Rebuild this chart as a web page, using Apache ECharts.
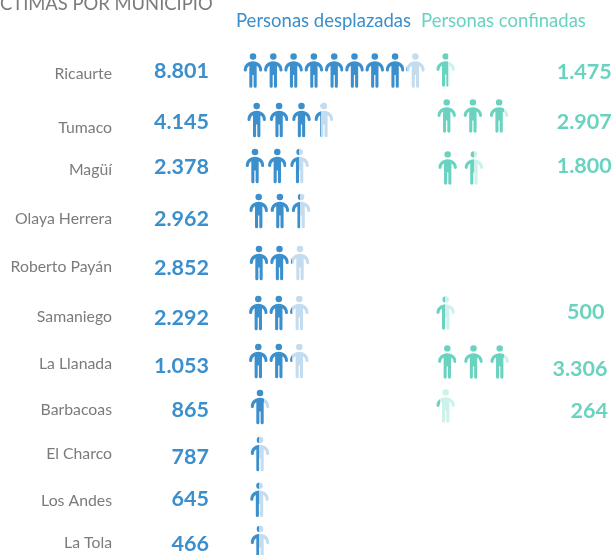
<!DOCTYPE html>
<html><head><meta charset="utf-8">
<style>html,body{margin:0;padding:0;background:#fff}#c{width:614px;height:555px}</style>
<script src="https://cdn.jsdelivr.net/npm/echarts@6/dist/echarts.min.js"></script></head>
<body><div id="c"></div>
<script>
// ---- data ----
const municipios = ['Ricaurte','Tumaco','Magüí','Olaya Herrera','Roberto Payán','Samaniego','La Llanada','Barbacoas','El Charco','Los Andes','La Tola'];
const desplazadas = [8801,4145,2378,2962,2852,2292,1053,865,787,645,466];
const confinadas = [1475,2907,1800,null,null,500,3306,264,null,null,null];
// icons filled in the picture (whole + partial icon), as drawn there
const iconosDesplazadas = [8.05,3.32,2.45,2.45,2.08,2.08,2.08,0.7,0.47,0.47,0.47];
const iconosConfinadas = [0.62,2.75,1.48,null,null,0.45,2.75,0.2,null,null,null];

// ---- layout and style, separate from the data (axis units = px, offsets from the row centre) ----
const blue='#3a8fcc', blueLight='#c3dcef', green='#69d3c0', greenLight='#cdf2eb', grey='#7b7b7b';
const dOffsetY=[0.5,2.6,1.2,-1.2,3.4,6,6.6,5.2,4.8,3.1,-1];
const dStartX=[253,256.7,255,258.7,259,258.3,258.3,260,260,259.5,260];
const dPitch=[20.3,22.4,22.3,21.2,20.5,20.5,20.5,20,20,20,20];
const cOffsetY=[0,-1.4,3.2,0,0,6,7.6,4.2,0,0,0];
const cStartX=[445.7,446.7,447.7,0,0,445.7,447.3,445.7,0,0,0];
const cPitch=26.2;
const nameOffsetY=[4,10.6,5.2,6.8,7.4,10,9.6,8.2,4.8,4.4,-1];
const numOffsetY=[1,4.6,2.2,6.8,8.4,11,11.6,8.2,7.8,2.4,0];
const cValOffsetY=[1.7,4.6,1.2,0,0,4.7,14.6,9.2,0,0,0];
const cValRight=[611.7,611.7,611.7,0,0,604.5,607.5,608,0,0,0];
const ICON='M9 0a3.2 3.2 0 1 0 0 6.4a3.2 3.2 0 1 0 0-6.4zM9 8C3.8 8 0 11.6 0 16.6a1.5 1.5 0 0 0 3 0C3 14.6 4 13.2 5.4 12.4V32.5a1.5 1.5 0 0 0 3 0V21.5H9.6V32.5a1.5 1.5 0 0 0 3 0V12.4C14 13.2 15 14.6 15 16.6a1.5 1.5 0 0 0 3 0C18 11.6 14.2 8 9 8z';

function iconRender(startX,pitch,offY,dark,light,w,h){
  return function(params,api){
    const fill=api.value(0), row=api.value(1), children=[];
    const count=Math.ceil(fill);
    for(let k=0;k<count;k++){
      const pitchRow=Array.isArray(pitch)?pitch[row]:pitch;
      const p=api.coord([startX[row]+k*pitchRow,row]);
      const f=Math.min(1,Math.max(0,fill-k));
      children.push({type:'path',shape:{pathData:ICON,layout:'cover',x:p[0]-w/2,y:p[1]+offY[row]-h/2,width:w,height:h},
        style:{fill:new echarts.graphic.LinearGradient(0,0,1,0,[{offset:0,color:dark},{offset:f,color:dark},{offset:f,color:light},{offset:1,color:light}])}});
    }
    return {type:'group',children};
  };
}
function textRender(getText,getX,offY,color,font){
  return function(params,api){
    const row=api.value(1);
    const p=api.coord([getX(row),row]);
    return {type:'text',x:p[0],y:p[1]+offY[row],style:{text:getText(row),align:'right',verticalAlign:'middle',fill:color,font}};
  };
}
const fmt=v=>String(v).replace(/\B(?=(\d{3})+$)/g,'.');
const rows=municipios.map((m,i)=>[i,i]);
const FF='Lato, sans-serif';
const chart=echarts.init(document.getElementById('c'));
chart.setOption({
  animation:false,backgroundColor:'#fff',
  title:{text:'CTIMAS POR MUNICIPIO',left:0,top:-5,padding:0,textStyle:{color:grey,fontFamily:FF,fontSize:18.4,fontWeight:'normal'}},
  legend:{left:231,top:12,padding:0,itemWidth:0,itemHeight:0,itemGap:5,selectedMode:false,
    data:[{name:'Personas desplazadas',icon:'none',textStyle:{color:blue}},{name:'Personas confinadas',icon:'none',textStyle:{color:green}}],
    textStyle:{fontFamily:FF,fontSize:18.5}},
  grid:{left:0,top:46.3,width:614,height:521.4,containLabel:false,outerBoundsMode:'none'},
  xAxis:{type:'value',min:0,max:614,show:false},
  yAxis:{type:'category',data:municipios,inverse:true,show:false},
  series:[
    {type:'custom',name:'Personas desplazadas',color:blue,clip:false,silent:true,
     data:iconosDesplazadas.map((v,i)=>[v,i]),encode:{x:0,y:1},
     renderItem:iconRender(dStartX,dPitch,dOffsetY,blue,blueLight,18.4,34.5)},
    {type:'custom',name:'Personas confinadas',color:green,clip:false,silent:true,
     data:iconosConfinadas.map((v,i)=>[v,i]).filter(d=>d[0]!=null),encode:{x:0,y:1},
     renderItem:iconRender(cStartX,cPitch,cOffsetY,green,greenLight,18.4,33.5)},
    {type:'custom',name:'Municipio',clip:false,silent:true,data:rows,encode:{x:0,y:1},
     renderItem:textRender(r=>municipios[r],()=>112,nameOffsetY,grey,'15.8px '+FF)},
    {type:'custom',name:'Desplazadas',clip:false,silent:true,data:rows,encode:{x:0,y:1},
     renderItem:textRender(r=>fmt(desplazadas[r]),()=>209,numOffsetY,blue,'bold 21.5px '+FF)},
    {type:'custom',name:'Confinadas',clip:false,silent:true,
     data:rows.filter(d=>confinadas[d[0]]!=null),encode:{x:0,y:1},
     renderItem:textRender(r=>fmt(confinadas[r]),r=>cValRight[r],cValOffsetY,green,'bold 21.5px '+FF)}
  ]
});
</script></body></html>
